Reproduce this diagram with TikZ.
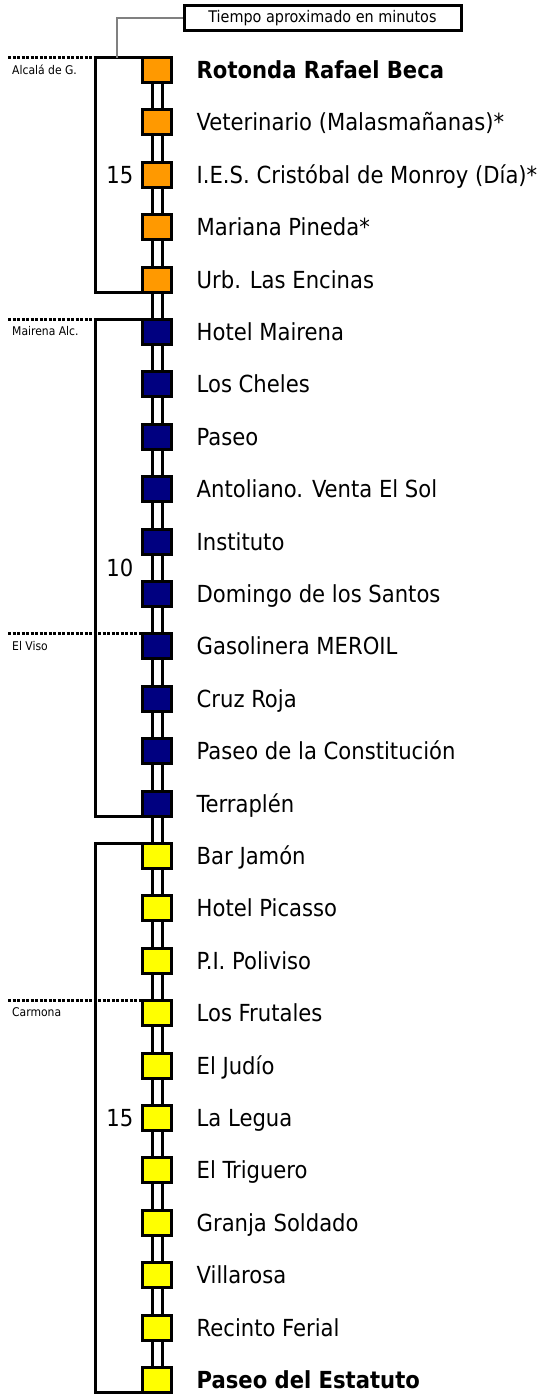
\documentclass[tikz,border=0pt]{standalone}
\usepackage{fontspec}
\setmainfont{DejaVu Sans Condensed}
\usepackage{tikz}
\usetikzlibrary{positioning,backgrounds}
\definecolor{lineorange}{RGB}{255,153,0}
\definecolor{linenavy}{RGB}{0,0,128}
\definecolor{lineyellow}{RGB}{255,255,0}
\tikzset{
  stp/.style={rectangle,draw=black,line width=3pt,fill=#1,outer sep=0pt,
              minimum width=29pt,minimum height=25pt,inner sep=0pt},
  rail/.style={line width=3pt},
  brk/.style={line width=3pt},
  dotln/.style={line width=3pt,dash pattern=on 3pt off 1.5pt},
  lbl/.style={font=\fontsize{23.5}{26}\selectfont,inner sep=0pt,
              text height=17.1pt,text depth=0pt},
  num/.style={lbl},
  town/.style={font=\fontsize{12}{14}\selectfont,inner sep=0pt,anchor=north west},
  tbox/.style={draw=black,line width=3pt,minimum width=277pt,minimum height=25pt,
               font=\fontsize{16}{18}\selectfont,inner sep=0pt},
}
\begin{document}
\begin{tikzpicture}[x=1pt,y=-1pt]
  \useasboundingbox (0,0) rectangle (547,1398);
  % stops
  \foreach \c/\txt [count=\i from 0] in {
      lineorange/\textbf{Rotonda Rafael Beca},
      lineorange/Veterinario (Malasmañanas)*,
      lineorange/I.E.S. Cristóbal de Monroy (Día)*,
      lineorange/Mariana Pineda*,
      lineorange/Urb. Las Encinas,
      linenavy/Hotel Mairena,
      linenavy/Los Cheles,
      linenavy/Paseo,
      linenavy/Antoliano. Venta El Sol,
      linenavy/Instituto,
      linenavy/Domingo de los Santos,
      linenavy/Gasolinera MEROIL,
      linenavy/Cruz Roja,
      linenavy/Paseo de la Constitución,
      linenavy/Terraplén,
      lineyellow/Bar Jamón,
      lineyellow/Hotel Picasso,
      lineyellow/P.I. Poliviso,
      lineyellow/Los Frutales,
      lineyellow/El Judío,
      lineyellow/La Legua,
      lineyellow/El Triguero,
      lineyellow/Granja Soldado,
      lineyellow/Villarosa,
      lineyellow/Recinto Ferial,
      lineyellow/\textbf{Paseo del Estatuto}} {
    \node[stp=\c] (s\i) at (157,{70+52.4*\i}) {};
    \node[lbl,right=25pt of s\i] (t\i) {\txt};
  }
  % double rail behind the stops
  \begin{scope}[on background layer]
    \draw[rail] ([xshift=-5pt]s0.center) -- ([xshift=-5pt]s25.center);
    \draw[rail] ([xshift=5pt]s0.center) -- ([xshift=5pt]s25.center);
  \end{scope}
  % brackets with travel times
  \coordinate (bx) at (95.5,0);
  \coordinate (lx) at (8,0);
  \draw[brk] (s0.north west) -- (bx |- s0.north west) -- (bx |- s4.south west) -- (s4.south west);
  \draw[brk] (s5.north west) -- (bx |- s5.north west) -- (bx |- s14.south west) -- (s14.south west);
  \draw[brk] (s15.north west) -- (bx |- s15.north west) -- (bx |- s25.south west) -- (s25.south west);
  \node[num,left=9pt of s2] (n1) {15};
  \path (s9.west) -- (s10.west) coordinate[midway] (m2);
  \node[num,left=9pt of m2] (n2) {10};
  \node[num,left=9pt of s20] (n3) {15};
  % towns
  \draw[dotln] (lx |- s0.north) coordinate (dA) -- (bx |- s0.north);
  \draw[dotln] (lx |- s5.north) coordinate (dB) -- (bx |- s5.north);
  \draw[dotln] (lx |- s11.north) coordinate (dC) -- (s11.north west);
  \draw[dotln] (lx |- s18.north) coordinate (dD) -- (s18.north west);
  \node[town,below right=7pt and 4pt of dA] (wA) {Alcalá de G.};
  \node[town,below right=7pt and 4pt of dB] (wB) {Mairena Alc.};
  \node[town,below right=7pt and 4pt of dC] (wC) {El Viso};
  \node[town,below right=7pt and 4pt of dD] (wD) {Carmona};
  % legend
  \node[tbox] (tit) at (322.5,18) {Tiempo aproximado en minutos};
  \coordinate (gx) at (117,0);
  \draw[gray,line width=1.2pt] (tit.west) -| (gx |- s0.north);
\end{tikzpicture}
\end{document}
